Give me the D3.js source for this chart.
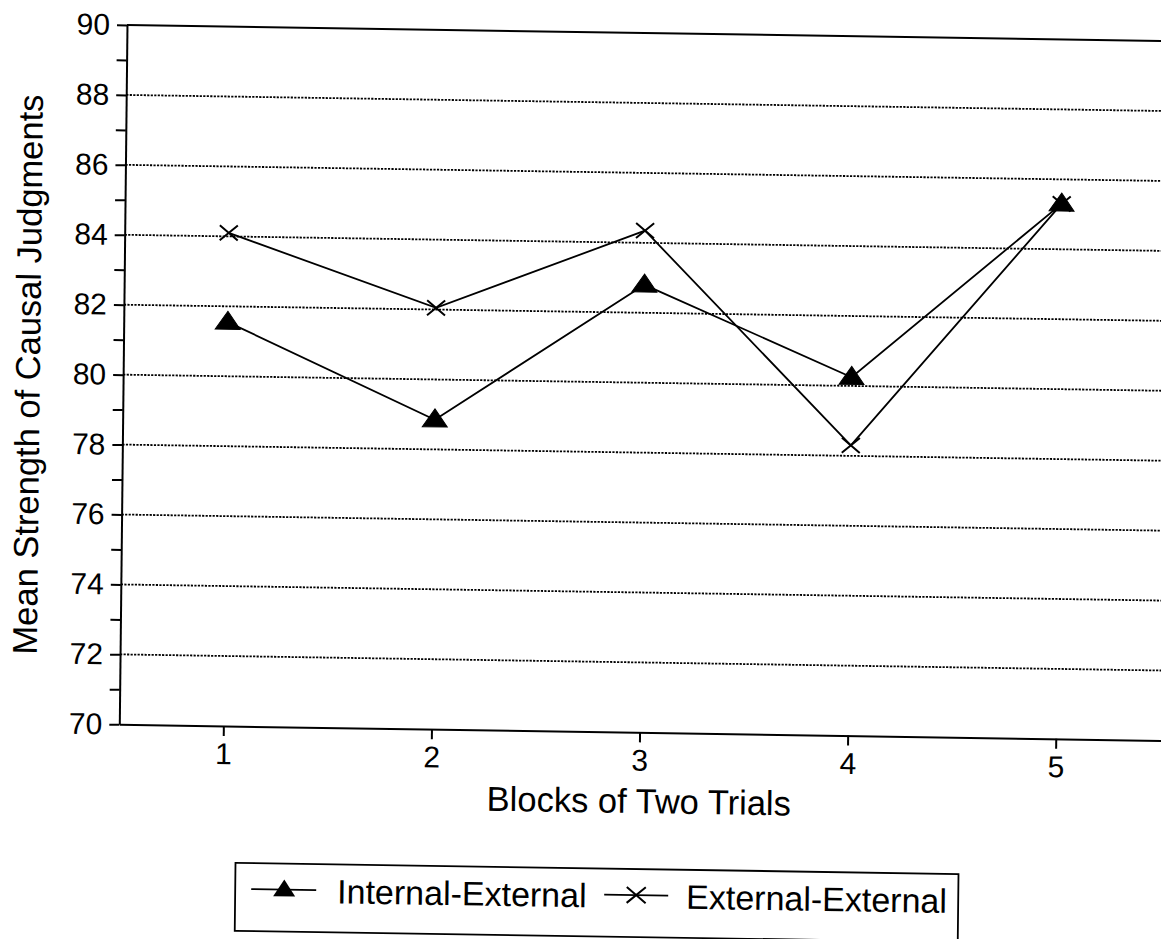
<!DOCTYPE html>
<html>
<head>
<meta charset="utf-8">
<script src="https://cdn.jsdelivr.net/npm/d3@7/dist/d3.min.js"></script>
<style>
  html, body { margin: 0; padding: 0; background: #fff; }
  svg { display: block; }
  text { font-family: "Liberation Sans", Arial, Helvetica, sans-serif; fill: #000; }
</style>
</head>
<body>
<svg id="chart" width="1161" height="939"></svg>
<script>
// ---- data ----
const blocks = [1, 2, 3, 4, 5];
const internalExternal = [81.55, 78.85, 82.8, 80.25, 85.3];
const externalExternal = [84.1, 82.05, 84.35, 78.3, 85.3];
const seriesNames = ["Internal-External", "External-External"];
const yMajorTicks = [70, 72, 74, 76, 78, 80, 82, 84, 86, 88, 90];
const yMinorTicks = [71, 73, 75, 77, 79, 81, 83, 85, 87, 89];
const yGridValues = [72, 74, 76, 78, 80, 82, 84, 86, 88];
const xTitle = "Blocks of Two Trials";
const yTitle = "Mean Strength of Causal Judgments";

(function () {
// ---- layout ----
const W = 1161, H = 939;
const pLeft = 119.3, pBottom = 724.3, pTop = 25;
const pxPerBlock = 208.1;
const pRight = pLeft + pxPerBlock * 5.1;

const svg = d3.select("#chart");
svg.append("rect").attr("width", W).attr("height", H).attr("fill", "#fff");

// slight scan skew of the original page
const sb = 0.0155, sc = -0.011;
const g = svg.append("g")
  .attr("transform", `matrix(1,${sb},${sc},1,${-sc * pBottom},${-sb * pLeft})`);

const x = d3.scaleLinear().domain([0.5, 5.6]).range([pLeft, pRight]);
const y = d3.scaleLinear().domain([70, 90]).range([pBottom, pTop]);

// gridlines
g.append("g").selectAll("line").data(yGridValues).join("line")
  .attr("x1", pLeft).attr("x2", pRight)
  .attr("y1", d => y(d)).attr("y2", d => y(d))
  .attr("stroke", "#000").attr("stroke-width", 1.8)
  .attr("stroke-dasharray", "2.2,1.3");

// top border
g.append("line")
  .attr("x1", pLeft).attr("x2", pRight)
  .attr("y1", y(90)).attr("y2", y(90))
  .attr("stroke", "#000").attr("stroke-width", 2);

// y axis (major)
g.append("g").attr("transform", `translate(${pLeft},0)`)
  .call(d3.axisLeft(y).tickValues(yMajorTicks).tickSize(10).tickSizeOuter(0).tickPadding(7).tickFormat(d3.format("d")));
// y axis (minor)
g.append("g").attr("transform", `translate(${pLeft},0)`)
  .call(d3.axisLeft(y).tickValues(yMinorTicks).tickSize(10).tickSizeOuter(0).tickFormat(""))
  .select(".domain").remove();

// x axis
g.append("g").attr("transform", `translate(0,${pBottom})`)
  .call(d3.axisBottom(x).tickValues(blocks).tickSize(10).tickSizeOuter(0).tickPadding(7).tickFormat(d3.format("d")));

g.selectAll(".tick line, .domain").attr("stroke", "#000").attr("stroke-width", 2);
g.selectAll(".tick text").attr("font-size", 30).attr("font-family", "'Liberation Sans', Arial, sans-serif").attr("fill", "#000");

// axis titles
g.append("text")
  .attr("x", x(3)).attr("y", 805)
  .attr("text-anchor", "middle").attr("font-size", 34.5)
  .text(xTitle);
g.append("text")
  .attr("transform", "translate(36,376) rotate(-90)")
  .attr("text-anchor", "middle").attr("font-size", 34.5)
  .text(yTitle);

// series lines
const line = d3.line().x((d, i) => x(blocks[i])).y(d => y(d));
const series = [internalExternal, externalExternal];
g.append("g").selectAll("path").data(series).join("path")
  .attr("d", d => line(d))
  .attr("fill", "none").attr("stroke", "#000").attr("stroke-width", 1.8);

// markers
function triPath(cx, cy, w, h) {
  return `M${cx},${cy - h * 0.6}L${cx + w / 2},${cy + h * 0.4}L${cx - w / 2},${cy + h * 0.4}Z`;
}
function xPath(cx, cy, w, h) {
  return `M${cx - w / 2},${cy - h / 2}L${cx + w / 2},${cy + h / 2}M${cx - w / 2},${cy + h / 2}L${cx + w / 2},${cy - h / 2}`;
}
g.append("g").selectAll("path").data(internalExternal).join("path")
  .attr("d", (d, i) => triPath(x(blocks[i]), y(d), 25, 18))
  .attr("fill", "#000").attr("stroke", "#000").attr("stroke-width", 1);
g.append("g").selectAll("path").data(externalExternal).join("path")
  .attr("d", (d, i) => xPath(x(blocks[i]), y(d), 18, 15))
  .attr("fill", "none").attr("stroke", "#000").attr("stroke-width", 2);

// legend
const lg = g.append("g");
lg.append("rect").attr("x", 237).attr("y", 861).attr("width", 723).attr("height", 68)
  .attr("fill", "none").attr("stroke", "#000").attr("stroke-width", 1.8);
lg.append("line").attr("x1", 253).attr("x2", 318).attr("y1", 887).attr("y2", 887)
  .attr("stroke", "#000").attr("stroke-width", 1.8);
lg.append("path").attr("d", triPath(286, 887, 22, 17)).attr("fill", "#000");
lg.append("text").attr("x", 339).attr("y", 900).attr("font-size", 34).text(seriesNames[0]);
lg.append("line").attr("x1", 606).attr("x2", 670).attr("y1", 887).attr("y2", 887)
  .attr("stroke", "#000").attr("stroke-width", 1.8);
lg.append("path").attr("d", xPath(638, 887, 19, 16)).attr("fill", "none").attr("stroke", "#000").attr("stroke-width", 2);
lg.append("text").attr("x", 688).attr("y", 900).attr("font-size", 34).text(seriesNames[1]);
})();
</script>
</body>
</html>
